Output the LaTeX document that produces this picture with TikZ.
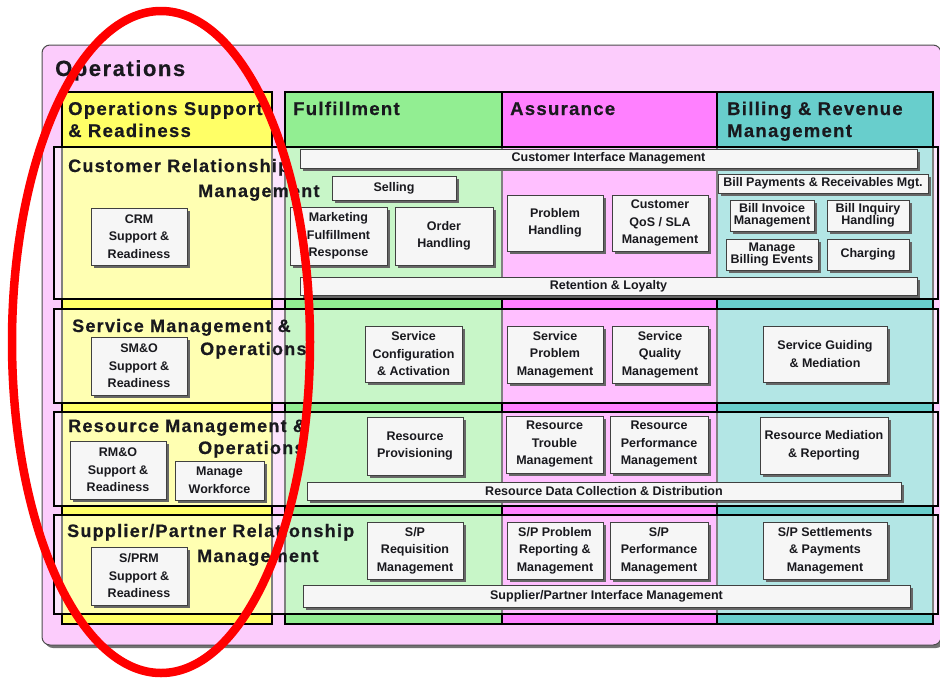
\documentclass[tikz,border=0pt]{standalone}
\usepackage{fontspec}
\setmainfont{Liberation Sans}
\newfontfamily\hdfont[LetterSpace=7,FakeBold=0.5]{Liberation Sans}
\newfontfamily\ttlfont[LetterSpace=7,FakeBold=0.4]{Liberation Sans}
\usetikzlibrary{shadows}
\definecolor{pinkbg}{RGB}{252,204,252}
\definecolor{yellowc}{RGB}{255,255,102}
\definecolor{greenc}{RGB}{146,238,146}
\definecolor{magentac}{RGB}{255,128,255}
\definecolor{tealc}{RGB}{104,206,204}
\definecolor{boxfill}{RGB}{246,246,246}
\definecolor{inkc}{RGB}{25,25,30}
\tikzset{
  colframe/.style={draw=black, line width=2.5pt},
  rowframe/.style={draw=black, line width=2.5pt, fill=white, fill opacity=0.5},
  hdtext/.style={font=\hdfont\bfseries\fontsize{18.5}{22}\selectfont, anchor=base west, inner sep=0pt, text=inkc, align=left},
  rowtitle/.style={font=\hdfont\bfseries\fontsize{18}{18}\selectfont, anchor=base west, inner sep=0pt, text=inkc},
  box/.style={draw=black!75, line width=0.8pt, fill=boxfill, align=center, inner sep=0pt, text=inkc,
    font=\bfseries\fontsize{12.5}{17.5}\selectfont,
    drop shadow={shadow xshift=2.5pt, shadow yshift=-2.5pt, fill=black!60, opacity=1}},
  smallbox/.style={box, font=\bfseries\fontsize{12.5}{12.5}\selectfont},
}
\newcommand\bx[7][box]{\node[#1, minimum width={#5-#3}, minimum height={#6-#4}] (#2) at ({(#3+#5)/2},{(#4+#6)/2}) {#7};}
\begin{document}
\begin{tikzpicture}[x=1pt,y=-1pt]
\useasboundingbox (0,0) rectangle (940,678);
% outer frame
\fill[black!55, rounded corners=8pt] (45,48) rectangle (944,648);
\draw[fill=pinkbg, draw=black!70, line width=1pt, rounded corners=8pt] (42,45) rectangle (941,645);
\node[font=\ttlfont\bfseries\fontsize{22}{22}\selectfont, anchor=base west, inner sep=0pt, text=inkc] (ops) at (55,76) {Operations};
% columns
\draw[colframe, fill=yellowc] (62,92) rectangle (272,624);
\draw[colframe, fill=greenc] (285,92) rectangle (502,624);
\draw[colframe, fill=magentac] (502,92) rectangle (717,624);
\draw[colframe, fill=tealc] (717,92) rectangle (933,624);
\node[hdtext] (h1) at (68,115) {Operations Support};
\node[hdtext] (h1b) at (68,137) {\& Readiness};
\node[hdtext] (h2) at (293,115) {Fulfillment};
\node[hdtext] (h3) at (510,115) {Assurance};
\node[hdtext] (h4) at (727,115) {Billing \& Revenue};
\node[hdtext] (h4b) at (727,137) {Management};
% rows
\draw[rowframe] (54,147) rectangle (938,299);
\draw[rowframe] (54,309) rectangle (938,403);
\draw[rowframe] (54,412) rectangle (938,506);
\draw[rowframe] (54,515) rectangle (938,614);
% row titles
\node[rowtitle] (r1a) at (68,172) {Customer Relationship};
\node[rowtitle] (r1b) at (198,197) {Management};
\node[rowtitle] (r2a) at (72,332) {Service Management \&};
\node[rowtitle] (r2b) at (200,355) {Operations};
\node[rowtitle] (r3a) at (68,432) {Resource Management \&};
\node[rowtitle] (r3b) at (198,454) {Operations};
\node[rowtitle] (r4a) at (67,537) {Supplier/Partner Relationship};
\node[rowtitle] (r4b) at (197,562) {Management};
% CRM row boxes
\bx{crm}{91}{208}{187}{265}{CRM\\Support \&\\Readiness}
\bx{cim}{300}{149}{917}{168}{Customer Interface Management}
\bx{sell}{332}{176}{456}{200}{Selling}
\bx{mfr}{290}{207}{387}{265}{Marketing\\Fulfillment\\Response}
\bx{oh}{395}{207}{493}{265}{Order\\Handling}
\bx{ph}{507}{195}{603}{251}{Problem\\Handling}
\bx{qos}{612}{195}{708}{251}{Customer\\QoS / SLA\\Management}
\bx{bpr}{718}{174}{928}{193}{Bill Payments \& Receivables Mgt.}
\bx[smallbox]{bim}{730}{200}{814}{231}{Bill Invoice\\Management}
\bx[smallbox]{bih}{827}{200}{909}{231}{Bill Inquiry\\Handling}
\bx[smallbox]{mbe}{726}{239}{818}{270}{Manage\\Billing Events}
\bx{chg}{827}{239}{909}{270}{Charging}
\bx{rl}{300}{277}{917}{295}{Retention \& Loyalty}
% SM&O row boxes
\bx{smo}{91}{337}{187}{395}{SM\&O\\Support \&\\Readiness}
\bx{sca}{365}{326}{462}{382}{Service\\Configuration\\\& Activation}
\bx{spm}{507}{326}{603}{383}{Service\\Problem\\Management}
\bx{sqm}{612}{326}{708}{383}{Service\\Quality\\Management}
\bx{sgm}{763}{326}{887}{382}{Service Guiding\\\& Mediation}
% RM&O row boxes
\bx{rmo}{70}{441}{166}{499}{RM\&O\\Support \&\\Readiness}
\bx{mw}{175}{461}{264}{500}{Manage\\Workforce}
\bx{rp}{367}{417}{463}{475}{Resource\\Provisioning}
\bx{rtm}{506}{416}{603}{473}{Resource\\Trouble\\Management}
\bx{rpm}{610}{416}{708}{473}{Resource\\Performance\\Management}
\bx{rmr}{760}{417}{888}{474}{Resource Mediation\\\& Reporting}
\bx{rdc}{307}{482}{901}{500}{Resource Data Collection \& Distribution}
% S/PRM row boxes
\bx{sprm}{91}{547}{187}{605}{S/PRM\\Support \&\\Readiness}
\bx{sprq}{367}{522}{463}{579}{S/P\\Requisition\\Management}
\bx{sppr}{507}{522}{603}{579}{S/P Problem\\Reporting \&\\Management}
\bx{sppm}{610}{522}{708}{579}{S/P\\Performance\\Management}
\bx{spsp}{763}{522}{887}{579}{S/P Settlements\\\& Payments\\Management}
\bx{spim}{303}{585}{910}{607}{Supplier/Partner Interface Management}
% red ellipse
\draw[red, line width=8.5pt] (161,342) ellipse [x radius=149, y radius=331];
\end{tikzpicture}
\end{document}
